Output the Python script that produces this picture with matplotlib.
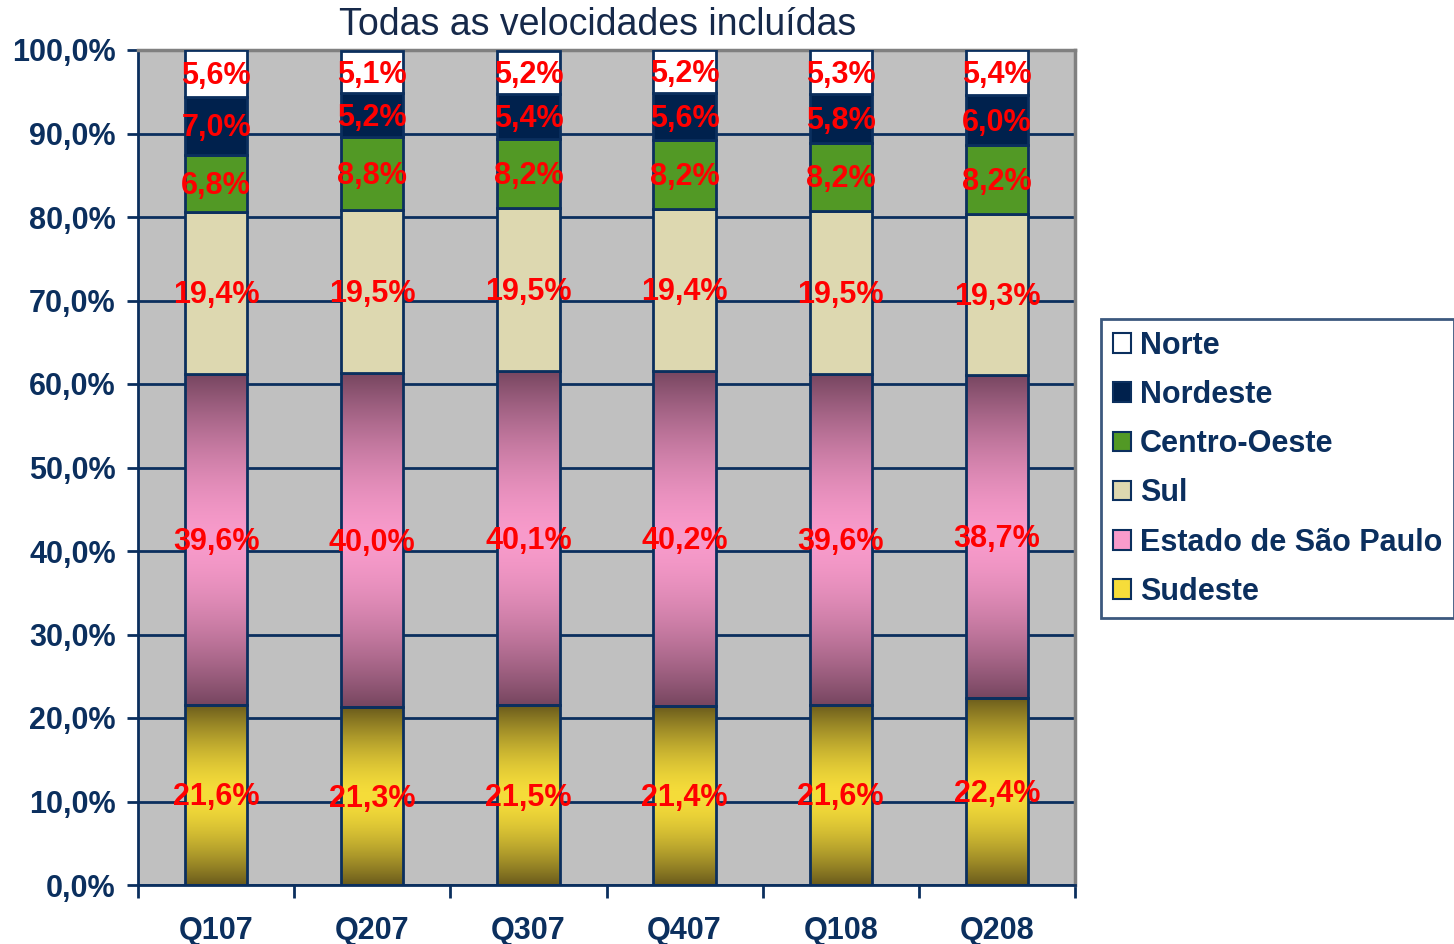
import numpy as np
import matplotlib.pyplot as plt
from matplotlib.colors import to_rgb
from matplotlib.patches import Patch

# quarters and regional shares (%), stacked bottom -> top
quarters = ['Q107', 'Q207', 'Q307', 'Q407', 'Q108', 'Q208']
sudeste = [21.6, 21.3, 21.5, 21.4, 21.6, 22.4]
sao_paulo = [39.6, 40.0, 40.1, 40.2, 39.6, 38.7]
sul = [19.4, 19.5, 19.5, 19.4, 19.5, 19.3]
centro_oeste = [6.8, 8.8, 8.2, 8.2, 8.2, 8.2]
nordeste = [7.0, 5.2, 5.4, 5.6, 5.8, 6.0]
norte = [5.6, 5.1, 5.2, 5.2, 5.3, 5.4]

series = [('Sudeste', sudeste), ('Estado de São Paulo', sao_paulo), ('Sul', sul),
          ('Centro-Oeste', centro_oeste), ('Nordeste', nordeste), ('Norte', norte)]

navy = '#0B2F5E'
# (end colour, middle colour) for gradient fills, or a single flat colour
fills = {
    'Sudeste': ('#6A5B1C', '#F6DD3A'),
    'Estado de São Paulo': ('#774660', '#F89BCB'),
    'Sul': '#DDD8B0',
    'Centro-Oeste': '#529925',
    'Nordeste': '#00214D',
    'Norte': '#FFFFFF',
}

plt.rcParams['font.family'] = ['Liberation Sans', 'DejaVu Sans']

fig = plt.figure(figsize=(14.54, 9.44), dpi=100)
ax = fig.add_axes([138/1454, 1-885/944, (1075-138)/1454, (885-50)/944])
ax.set_facecolor('#C0C0C0')

x = np.arange(len(quarters))
width = 0.40
bottom = np.zeros(len(quarters))


def gradient(c_end, c_mid, n=256):
    t = np.linspace(0, 1, n)
    w = 1 - np.abs(2*t - 1)**1.6
    a = np.array(to_rgb(c_end))
    b = np.array(to_rgb(c_mid))
    col = a[None, :]*(1 - w[:, None]) + b[None, :]*w[:, None]
    return col[:, None, :]


for name, vals in series:
    f = fills[name]
    face = 'none' if isinstance(f, tuple) else f
    bars = ax.bar(x, vals, width, bottom=bottom, facecolor=face,
                  edgecolor=navy, linewidth=2, zorder=3)
    if isinstance(f, tuple):
        img = gradient(*f)
        for b in bars:
            x0, y0 = b.get_x(), b.get_y()
            ax.imshow(img, extent=[x0, x0 + b.get_width(), y0, y0 + b.get_height()],
                      aspect='auto', origin='lower', zorder=2, interpolation='bilinear')
    for xi, b0, v in zip(x, bottom, vals):
        ax.text(xi, b0 + v/2 - 0.3, f'{v:.1f}%'.replace('.', ','), ha='center', va='center',
                color='#FF0000', fontsize=22, fontweight='bold', zorder=5)
    bottom += np.array(vals)

ax.set_xlim(-0.5, len(quarters) - 0.5)
ax.set_ylim(0, 100)

yt = np.arange(0, 101, 10)
ax.set_yticks(yt)
ax.set_yticklabels([f'{v:.1f}%'.replace('.', ',') for v in yt])
ax.yaxis.grid(True, color=navy, linewidth=2, zorder=1)
ax.set_axisbelow(True)
ax.tick_params(axis='y', direction='out', length=8, width=2, color=navy,
               labelsize=22, labelcolor=navy, pad=8)

ax.set_xticks(np.arange(-0.5, len(quarters)), minor=False)
ax.set_xticklabels([])
ax.set_xticks(x, minor=True)
ax.set_xticklabels(quarters, minor=True)
ax.tick_params(axis='x', which='major', direction='out', length=9, width=2, color=navy)
ax.tick_params(axis='x', which='minor', length=0, labelsize=22, labelcolor=navy, pad=22)
for lab in ax.get_xticklabels(minor=True) + ax.get_yticklabels():
    lab.set_fontweight('bold')

for s in ['left', 'bottom']:
    ax.spines[s].set_color(navy)
    ax.spines[s].set_linewidth(2)
for s in ['top', 'right']:
    ax.spines[s].set_color('#808080')
    ax.spines[s].set_linewidth(2.5)

fig.text(598/1454, 1-25/944, 'Todas as velocidades incluídas', ha='center', va='center',
         fontsize=27, color='#16294A')

handles = []
for name, _ in series[::-1]:
    f = fills[name]
    fc = f[1] if isinstance(f, tuple) else f
    handles.append(Patch(facecolor=fc, edgecolor=navy, linewidth=1.5, label=name))
leg = fig.legend(handles=handles, loc='upper left', bbox_to_anchor=(1101/1454, 1-319/944),
                 frameon=True, fancybox=False, edgecolor=navy, fontsize=22,
                 handlelength=0.6, handleheight=0.6, handletextpad=0.3,
                 labelspacing=0.63, borderpad=0.38, borderaxespad=0)
leg.get_frame().set_linewidth(2)
for t in leg.get_texts():
    t.set_color(navy)
    t.set_fontweight('bold')

fig.savefig('out.png', dpi=100)
